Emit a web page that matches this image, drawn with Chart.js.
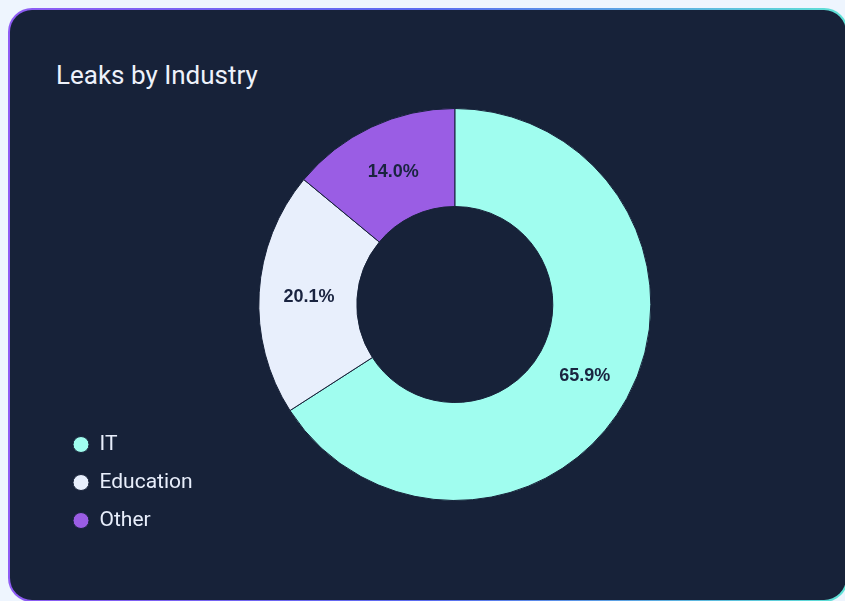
<!DOCTYPE html>
<html>
<head>
<meta charset="utf-8">
<title>Leaks by Industry</title>
<script src="https://cdn.jsdelivr.net/npm/chart.js@4/dist/chart.umd.min.js"></script>
<style>
  html, body { margin: 0; padding: 0; }
  body {
    width: 845px; height: 601px; overflow: hidden; position: relative;
    background: #eef5fe;
    font-family: Roboto, "Noto Sans", sans-serif;
  }
  .card {
    position: absolute; left: 8px; top: 8px;
    width: 836px; height: 590px;
    border: 2px solid transparent;
    border-radius: 24px;
    background:
      linear-gradient(#172239, #172239) padding-box,
      linear-gradient(90deg, #8f5cf4 0%, #5a6cf0 50%, #5fe3d6 100%) border-box;
  }
  h1 {
    position: absolute; left: 56px; top: 62px; margin: 0;
    font: 400 26px/1 Roboto, sans-serif;
    color: #eef2fb;
  }
  #wrap { position: absolute; left: 0; top: 0; width: 845px; height: 601px; }
</style>
</head>
<body>
<div class="card"></div>
<h1>Leaks by Industry</h1>
<div id="wrap"><canvas id="chart"></canvas></div>
<script>
const categories = ['IT', 'Education', 'Other'];
const shares = [65.9, 20.1, 14.0];
const sliceColors = ['#a0fdef', '#e8effc', '#9a5de4'];

// Writes each slice's share in the middle of its ring segment
const sliceLabels = {
  id: 'sliceLabels',
  afterDatasetsDraw(chart) {
    const ctx = chart.ctx;
    const meta = chart.getDatasetMeta(0);
    const values = chart.data.datasets[0].data;
    ctx.save();
    ctx.font = 'bold 18px "Liberation Sans", Arial, sans-serif';
    ctx.fillStyle = '#1a2440';
    ctx.textAlign = 'center';
    ctx.textBaseline = 'middle';
    meta.data.forEach((arc, i) => {
      const p = arc.tooltipPosition();
      ctx.fillText(values[i].toFixed(1) + '%', p.x + 1, p.y + 1);
    });
    ctx.restore();
  }
};

new Chart(document.getElementById('chart'), {
  type: 'doughnut',
  data: {
    labels: categories,
    datasets: [{
      data: shares,
      backgroundColor: sliceColors,
      borderColor: '#172239',
      borderWidth: 1,
      hoverOffset: 0,
      radius: 196,
      cutout: '50%'
    }]
  },
  options: {
    responsive: true,
    maintainAspectRatio: false,
    animation: false,
    layout: { padding: { left: 56, top: 61, bottom: 53, right: 138 } },
    plugins: {
      tooltip: { enabled: false },
      legend: {
        position: 'left',
        align: 'end',
        labels: {
          usePointStyle: true,
          pointStyle: 'circle',
          boxWidth: 16,
          boxHeight: 11.3137,
          padding: 17,
          color: '#e8eefb',
          font: { family: 'Roboto', size: 21 }
        }
      }
    }
  },
  plugins: [sliceLabels]
});
</script>
</body>
</html>
